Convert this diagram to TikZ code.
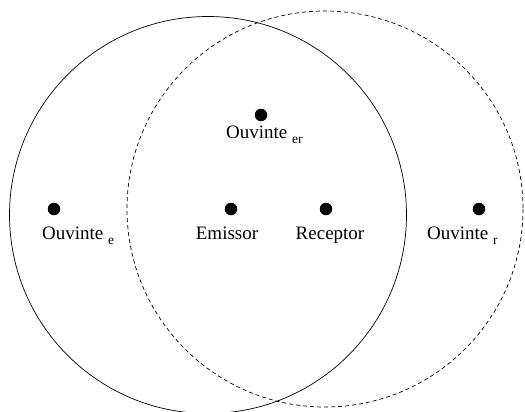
\documentclass[tikz,border=0pt]{standalone}
\usepackage{fontspec}
\setmainfont{Liberation Serif}
\newfontfamily\labelfont{Liberation Serif}
\usetikzlibrary{positioning}
\tikzset{
  dot/.style={shape=circle,fill=black,draw=none,inner sep=0pt,minimum size=12.5pt},
  lbl/.style={inner sep=0pt,font=\labelfont\fontsize{19}{21}\selectfont},
  reach/.style={draw=black,line width=0.7pt}
}
\newcommand{\subtxt}[1]{\raisebox{-0.6ex}{\fontsize{13.5}{14}\selectfont #1}}
\begin{document}
\begin{tikzpicture}[x=1pt,y=-1pt]
  \useasboundingbox (0,0) rectangle (525,412);
  \draw[reach] (208,215) circle (198.5);
  \draw[reach,dash pattern=on 4pt off 3pt] (325,209) circle (198);
  \node[dot] (er) at (261,115) {};
  \node[dot] (e) at (54,209) {};
  \node[dot] (emissor) at (231,209) {};
  \node[dot] (receptor) at (326,209) {};
  \node[dot] (r) at (479,209) {};
  \node[lbl,anchor=base west] (erlbl) at (226,138) {Ouvinte \subtxt{er}};
  \node[lbl,anchor=base west] (elbl) at (42,239) {Ouvinte \subtxt{e}};
  \node[lbl,anchor=base] (emissorlbl) at (227,239) {Emissor};
  \node[lbl,anchor=base] (receptorlbl) at (330,239) {Receptor};
  \node[lbl,anchor=base west] (rlbl) at (427,239) {Ouvinte \subtxt{r}};
\end{tikzpicture}
\end{document}
